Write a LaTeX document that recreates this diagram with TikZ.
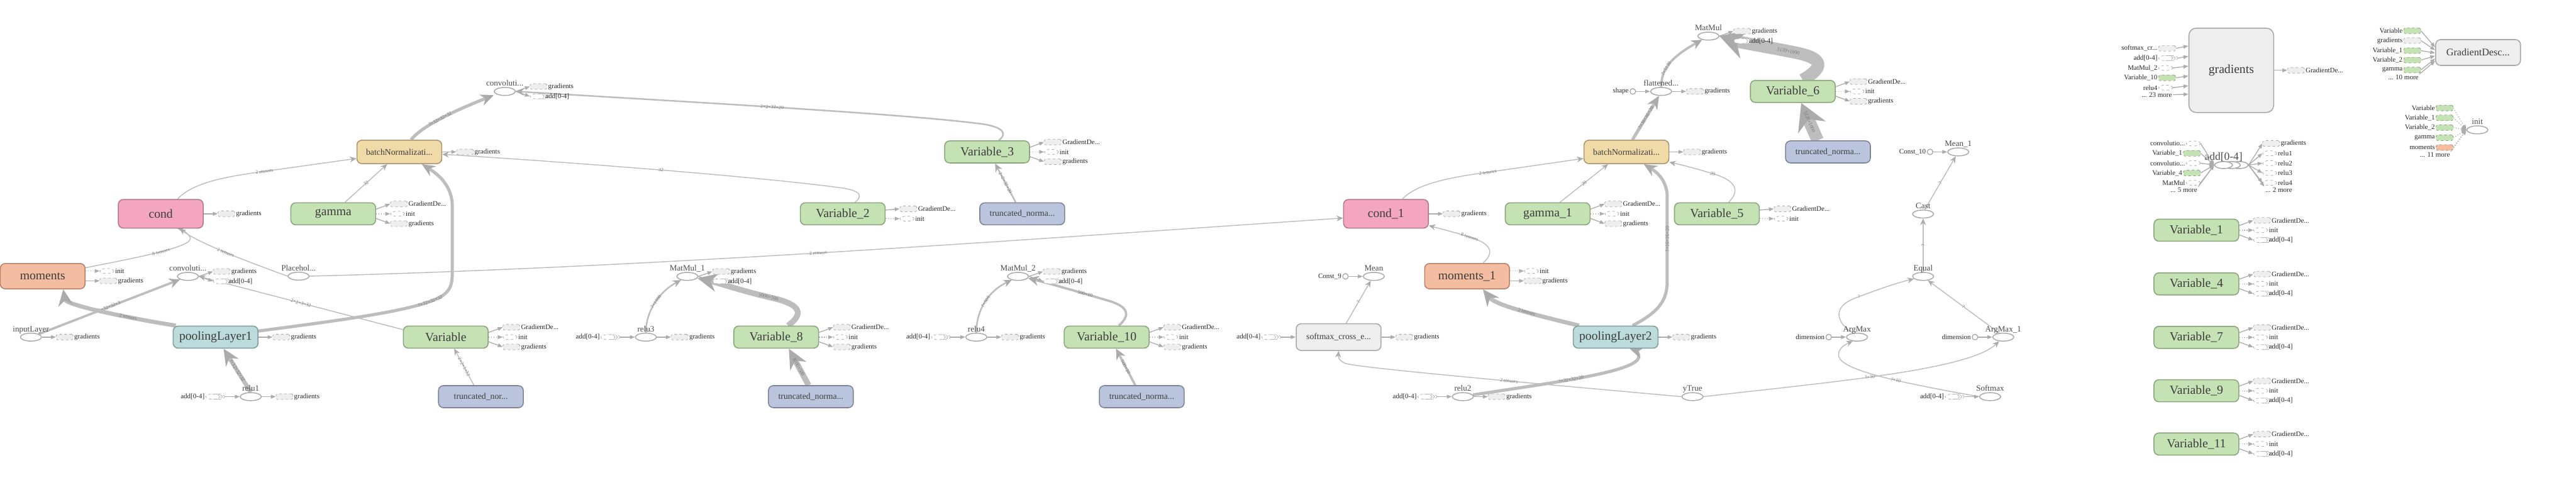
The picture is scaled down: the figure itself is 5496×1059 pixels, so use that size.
\documentclass[tikz,border=0pt]{standalone}
\usepackage{fontspec}
\setmainfont{Liberation Serif}
\usetikzlibrary{shapes.geometric,arrows.meta}
\pgfdeclarelayer{bg}
\pgfsetlayers{bg,main}

\definecolor{cedge}{HTML}{BDBDBD}
\definecolor{ctip}{HTML}{ABABAB}
\definecolor{cstub}{HTML}{ACACAC}
\definecolor{cgrayf}{HTML}{EEEEEE}
\definecolor{cgrayd}{HTML}{A8A8A8}
\definecolor{cgreenf}{HTML}{C5E2B4}
\definecolor{cgreend}{HTML}{8BA57D}
\definecolor{cpinkf}{HTML}{F4A5C0}
\definecolor{cpinkd}{HTML}{B07A8B}
\definecolor{corangef}{HTML}{F4BDA1}
\definecolor{coranged}{HTML}{B3836C}
\definecolor{ctanf}{HTML}{F0DAA8}
\definecolor{ctand}{HTML}{AB9670}
\definecolor{ctealf}{HTML}{BCDCDB}
\definecolor{cteald}{HTML}{809D9D}
\definecolor{cbluef}{HTML}{BAC5DD}
\definecolor{cblued}{HTML}{7E8497}
\definecolor{ctext}{HTML}{3C3C3C}
\definecolor{cop}{HTML}{4A4A4A}
\definecolor{clab}{HTML}{777777}

% output stubs of a node
\newcommand{\outG}[1]{%
  \node[sg,anchor=west,label={[stxt]right:gradients}] (#1-gr) at ([xshift=0.6cm]#1.east) {};
  \draw[sa] (#1.east) -- (#1-gr.west);}
\newcommand{\outsV}[1]{%
  \node[sg,anchor=west,label={[stxt]right:GradientDe...}] (#1-gd) at ([xshift=0.6cm,yshift=0.42cm]#1.east) {};
  \node[se,anchor=west,label={[stxt]right:init}] (#1-in) at ([xshift=0.6cm]#1.east) {};
  \node[sg,anchor=west,label={[stxt]right:gradients}] (#1-gr) at ([xshift=0.6cm,yshift=-0.42cm]#1.east) {};
  \draw[sa] ([yshift=0.2cm]#1.east) -- (#1-gd.west);
  \draw[sa,dotted] (#1.east) -- (#1-in.west);
  \draw[sa] ([yshift=-0.2cm]#1.east) -- (#1-gr.west);}
\newcommand{\outsW}[1]{%
  \node[sg,anchor=west,label={[stxt]right:GradientDe...}] (#1-gd) at ([xshift=0.6cm,yshift=0.42cm]#1.east) {};
  \node[se,anchor=west,label={[stxt]right:init}] (#1-in) at ([xshift=0.6cm]#1.east) {};
  \node[ssr,anchor=west,label={[stxt]right:{add[0-4]}}] (#1-ad) at ([xshift=0.6cm,yshift=-0.42cm]#1.east) {};
  \draw[sa] ([yshift=0.2cm]#1.east) -- (#1-gd.west);
  \draw[sa,dotted] (#1.east) -- (#1-in.west);
  \draw[sa] ([yshift=-0.2cm]#1.east) -- (#1-ad.west);}
\newcommand{\outsT}[1]{%
  \node[sg,anchor=west,label={[stxt]right:GradientDe...}] (#1-gd) at ([xshift=0.6cm,yshift=0.21cm]#1.east) {};
  \node[se,anchor=west,label={[stxt]right:init}] (#1-in) at ([xshift=0.6cm,yshift=-0.21cm]#1.east) {};
  \draw[sa] ([yshift=0.16cm]#1.east) -- (#1-gd.west);
  \draw[sa,dotted] ([yshift=-0.2cm]#1.east) -- (#1-in.west);}
\newcommand{\outsM}[1]{%
  \node[se,anchor=west,label={[stxt]right:init}] (#1-in) at ([xshift=0.6cm,yshift=0.22cm]#1.east) {};
  \node[sg,anchor=west,label={[stxt]right:gradients}] (#1-gr) at ([xshift=0.6cm,yshift=-0.2cm]#1.east) {};
  \draw[sa,dotted] ([yshift=0.22cm]#1.east) -- (#1-in.west);
  \draw[sa] ([yshift=-0.2cm]#1.east) -- (#1-gr.west);}
\newcommand{\outsO}[1]{%
  \node[sg,anchor=west,label={[stxt]right:gradients}] (#1-gr) at ([xshift=0.6cm,yshift=0.21cm]#1.east) {};
  \node[ssr,anchor=west,label={[stxt]right:{add[0-4]}}] (#1-ad) at ([xshift=0.6cm,yshift=-0.21cm]#1.east) {};
  \draw[sa] (#1.east) -- (#1-gr.west);
  \draw[sa] (#1.east) -- (#1-ad.west);}
% input stubs
\newcommand{\inAdd}[1]{%
  \node[ss,anchor=east,label={[stxt]left:{add[0-4]}}] (#1-ad) at ([xshift=-0.84cm]#1.west) {};
  \draw[sa] ([xshift=6pt]#1-ad.east) -- (#1.west);}
\newcommand{\inConst}[2]{%
  \node[cst,anchor=east,label={[stxt]left:{#2}}] (#1-c) at ([xshift=-0.6cm]#1.west) {};
  \draw[sa] (#1-c) -- (#1.west);}

\begin{document}
\begin{tikzpicture}[x=0.02cm,y=-0.02cm]
  \tikzstyle{box}=[rectangle,rounded corners=6pt,line width=1.2pt,minimum width=3.62cm,minimum height=0.94cm,inner sep=0pt,text=ctext,font=\fontsize{15}{18}\selectfont]
  \tikzstyle{varn}=[box,fill=cgreenf,draw=cgreend]
  \tikzstyle{condn}=[box,fill=cpinkf,draw=cpinkd,minimum height=1.22cm]
  \tikzstyle{momn}=[box,fill=corangef,draw=coranged,minimum height=1.08cm]
  \tikzstyle{bnn}=[box,fill=ctanf,draw=ctand,minimum height=1.0cm,font=\fontsize{10.5}{12}\selectfont]
  \tikzstyle{pooln}=[box,fill=ctealf,draw=cteald]
  \tikzstyle{trn}=[box,fill=cbluef,draw=cblued,font=\fontsize{10.5}{12}\selectfont]
  \tikzstyle{grn}=[box,fill=cgrayf,draw=cgrayd]
  \tikzstyle{opn}=[ellipse,draw=cgrayd,line width=1.1pt,fill=white,minimum width=0.9cm,minimum height=0.34cm,inner sep=0pt,label distance=3pt]
  \tikzstyle{opser}=[opn,minimum width=0.76cm,minimum height=0.3cm,
    preaction={draw=cgrayd,line width=1.1pt,fill=white,transform canvas={xshift=19pt}},
    preaction={draw=cgrayd,line width=1.1pt,fill=white,transform canvas={xshift=9.5pt}}]
  \tikzstyle{oplab}=[font=\fontsize{10}{12}\selectfont,text=cop,inner sep=1pt,text depth=0pt]
  \tikzstyle{sg}=[rectangle,rounded corners=1.5pt,dashed,draw=cstub,fill=cgrayf,line width=0.6pt,minimum width=0.72cm,minimum height=0.24cm,inner sep=0pt,label distance=2.4pt]
  \tikzstyle{sgg}=[sg,fill=cgreenf,draw=cgreend]
  \tikzstyle{sgo}=[sg,fill=corangef,draw=coranged]
  \tikzstyle{se}=[ellipse,dashed,draw=cstub,fill=white,line width=0.6pt,minimum width=0.6cm,minimum height=0.22cm,inner sep=0pt,label distance=2.4pt]
  \tikzstyle{ss}=[se,
    preaction={draw=cstub,dashed,line width=0.6pt,fill=white,transform canvas={xshift=6pt}},
    preaction={draw=cstub,dashed,line width=0.6pt,fill=white,transform canvas={xshift=3pt}}]
  \tikzstyle{ssr}=[ss,label distance=8.5pt]
  \tikzstyle{cst}=[circle,draw=cgrayd,line width=1pt,fill=white,minimum size=0.24cm,inner sep=0pt,label distance=2.4pt]
  \tikzstyle{stxt}=[font=\fontsize{8.4}{10}\selectfont,text=black!85,inner sep=1pt]
  \tikzstyle{sa}=[draw=cstub,line width=1pt,-{Triangle[length=6pt,width=4.5pt]}]
  \tikzstyle{ed}=[draw=cedge,line width=1.1pt,-{Stealth[length=8pt,width=7pt,color=ctip]}]
  \tikzstyle{edm}=[ed,line width=1.9pt,-{Stealth[length=10pt,width=9pt,color=ctip]}]
  \tikzstyle{edn}=[ed,line width=2.8pt,-{Stealth[length=13pt,width=12pt,color=ctip]}]
  \tikzstyle{edt}=[ed,line width=3.8pt,-{Stealth[length=16pt,width=14pt,color=ctip]}]
  \tikzstyle{edx}=[ed,line width=5pt,-{Stealth[length=20pt,width=18pt,color=ctip]}]
  \tikzstyle{edh}=[ed,line width=7pt,-{Stealth[length=24pt,width=22pt,color=ctip]}]
  \tikzstyle{edw}=[ed,line width=15pt,-{Stealth[length=32pt,width=36pt,color=ctip]}]
  \tikzstyle{el}=[sloped,font=\fontsize{6}{7}\selectfont,text=clab,inner sep=0.5pt]
  \useasboundingbox (0,0) rectangle (5496,1059);

  % first block
  \node[momn] (mom) at (91,589) {moments};
  \node[condn] (cond) at (343,456) {cond};
  \node[varn] (gamma) at (711,456) {gamma};
  \node[bnn] (bn1) at (852,324) {batchNormalizati...};
  \node[pooln] (pool1) at (460,719) {poolingLayer1};
  \node[varn] (var0) at (951,719) {Variable};
  \node[trn] (tr0) at (1026,846) {truncated\_nor...};
  \node[opn,label={[oplab]above:convoluti...}] (convL) at (401,589.5) {};
  \node[opn,label={[oplab]above:Placehol...}] (plh) at (637,589) {};
  \node[opn,label={[oplab]above:inputLayer}] (inp) at (66,719) {};
  \node[opn,label={[oplab]above:relu1}] (relu1) at (535,846) {};
  \node[opn,label={[oplab]above:convoluti...}] (convT) at (1077,195) {};

  % dense layers
  \node[varn] (var8) at (1656,719) {Variable\_8};
  \node[trn] (tr8) at (1730,846) {truncated\_norma...};
  \node[varn] (var2) at (1798,456) {Variable\_2};
  \node[varn] (var3) at (2106,324) {Variable\_3};
  \node[trn] (tr3) at (2181,456) {truncated\_norma...};
  \node[varn] (var10) at (2361,719) {Variable\_10};
  \node[trn] (tr10) at (2436,846) {truncated\_norma...};
  \node[opn,label={[oplab]above:MatMul\_1}] (mm1) at (1466.5,589.5) {};
  \node[opn,label={[oplab]above:relu3}] (relu3) at (1378,719) {};
  \node[opn,label={[oplab]above:MatMul\_2}] (mm2) at (2172,589.5) {};
  \node[opn,label={[oplab]above:relu4}] (relu4) at (2083,719) {};

  % second block
  \node[grn,minimum height=1.14cm,font=\fontsize{10.5}{12}\selectfont] (smx) at (2856,719) {softmax\_cross\_e...};
  \node[condn] (cond1) at (2957,456) {cond\_1};
  \node[varn] (gam1) at (3302,456) {gamma\_1};
  \node[momn] (mom1) at (3130,589) {moments\_1};
  \node[pooln] (pool2) at (3447,719) {poolingLayer2};
  \node[bnn] (bn2) at (3470,324) {batchNormalizati...};
  \node[varn] (var5) at (3663,456) {Variable\_5};
  \node[varn] (var6) at (3825,195) {Variable\_6};
  \node[trn] (tr6) at (3900,324) {truncated\_norma...};
  \node[opn,label={[oplab]above:Mean}] (mean) at (2931,589.5) {};
  \node[opn,label={[oplab]above:relu2}] (relu2) at (3121,846) {};
  \node[opn,label={[oplab]above:yTrue}] (ytrue) at (3611,846) {};
  \node[opn,label={[oplab]above:flattened...}] (flat) at (3544,195) {};
  \node[opn,label={[oplab]above:MatMul}] (mm0) at (3645,77) {};
  \node[opn,label={[oplab]above:Mean\_1}] (mean1) at (4178,324) {};
  \node[opn,label={[oplab]above:Cast}] (cast) at (4103,456.5) {};
  \node[opn,label={[oplab]above:Equal}] (eq) at (4103,589.5) {};
  \node[opn,label={[oplab]above:ArgMax}] (am) at (3962,719) {};
  \node[opn,label={[oplab]above:ArgMax\_1}] (am1) at (4274,719) {};
  \node[opn,label={[oplab]above:Softmax}] (smax) at (4246,846) {};

  % stubs
  \outG{cond} \outsV{gamma} \outsM{mom} \outG{bn1} \outG{pool1} \outsV{var0}
  \outsO{convL} \outG{inp} \inAdd{relu1} \outG{relu1} \outsO{convT}
  \outsV{var8} \outsT{var2} \outsV{var3} \outsV{var10}
  \outsO{mm1} \inAdd{relu3} \outG{relu3} \outsO{mm2} \inAdd{relu4} \outG{relu4}
  \inAdd{smx} \outG{smx} \inConst{mean}{Const\_9}
  \outG{cond1} \outsV{gam1} \outsM{mom1} \outG{pool2} \outG{bn2} \outsT{var5} \outsV{var6}
  \inAdd{relu2} \outG{relu2} \inConst{flat}{shape} \outG{flat} \outsO{mm0}
  \inConst{mean1}{Const\_10} \inConst{am}{dimension} \inConst{am1}{dimension} \inAdd{smax}

  % main edges
  \begin{pgfonlayer}{bg}
  \draw[edn] (inp) -- node[el,pos=0.5] (l1) {?×32×32×3} (convL);
  \draw[edx] ([xshift=-1.7cm]pool1.north) .. controls (260,676) and (140,650) .. ([xshift=0.88cm]mom.south) node[el,pos=0.3] (l2) {2 tensors};
  \draw[ed] ([yshift=0.36cm]mom.east) .. controls (300,548) and (420,525) .. (405,505) node[el,pos=0.5] (l3) {8 tensors} .. controls (400,497) and (390,490) .. ([xshift=0.72cm]cond.south);
  \draw[ed] (plh.west) .. controls (500,548) and (420,515) .. ([xshift=0.8cm]cond.south) node[el,pos=0.45] (l4) {2 tensors};
  \draw[ed] (plh.east) .. controls (1400,570) and (2200,510) .. ([yshift=-0.18cm]cond1.west) node[el,pos=0.48] (l5) {2 tensors};
  \draw[ed] ([xshift=0.72cm]cond.north) .. controls (410,390) and (480,377) .. (560,366) -- ([yshift=-0.28cm]bn1.west) node[el,pos=0.02] (l6) {2 tensors};
  \draw[ed] ([xshift=0.5cm]gamma.north) -- node[el] (l7) {32} ([xshift=-0.52cm]bn1.south);
  \draw[edt] ([yshift=0.26cm]pool1.east) .. controls (750,680) and (900,660) .. (945,630) node[el,pos=0.85] (l8) {?×32×32×32}
    .. controls (965,615) and (965,600) .. (965,575) -- (965,440) .. controls (965,400) and (940,375) .. ([xshift=0.96cm]bn1.south);
  \draw[ed] ([yshift=0.32cm]var0.west) -- node[el] (l9) {2×2×3×32} (convL.east);
  \draw[edt] ([xshift=0.5cm]bn1.north) .. controls (900,270) and (960,240) .. ([yshift=-0.16cm]convT.west) node[el,pos=0.5] (l10) {?×32×32×32};
  \draw[edx] (relu1.north) -- node[el] (l11) {?×32×32×32} ([xshift=0.34cm]pool1.south);
  \draw[edm] ([xshift=0.5cm]var3.north) .. controls (2150,285) and (2140,272) .. (2100,265) .. controls (1950,245) and (1600,225) .. (convT.east) node[el,pos=0.58] (l12) {2×2×32×20};
  \draw[ed] ([xshift=0.52cm]var2.north) .. controls (1845,415) and (1830,405) .. (1790,400) .. controls (1600,375) and (1200,345) .. ([yshift=-0.1cm]bn1.east) node[el,pos=0.48] (l13) {32};
  \draw[ed] ([xshift=-0.3cm]tr0.north) -- node[el] (l14) {2×2×3×32} ([xshift=0.36cm]var0.south);
  \draw[edh] ([xshift=-0.1cm]tr8.north) -- node[el] (l15) {1000×500} ([xshift=0.54cm]var8.south);
  \draw[edm] ([xshift=-0.28cm]tr3.north) -- node[el] (l16) {2×2×32×20} ([xshift=0.34cm]var3.south);
  \draw[edm] (relu3.north) .. controls (1378,660) and (1410,620) .. (mm1.210) node[el,pos=0.5] (l17) {?×1000};
  \draw[edh] ([xshift=0.5cm]var8.north) .. controls (1715,670) and (1710,650) .. (1650,636) .. controls (1580,620) and (1540,605) .. (mm1.-10) node[el,pos=0.05] (l18) {1000×500};
  \draw[edm] (relu4.north) .. controls (2083,660) and (2110,620) .. (mm2.210) node[el,pos=0.5] (l19) {?×500};
  \draw[edn] ([xshift=0.52cm]var10.north) .. controls (2415,670) and (2405,652) .. (2360,640) .. controls (2300,622) and (2240,605) .. (mm2.-10) node[el,pos=0.25] (l20) {500×10};
  \draw[edn] ([xshift=-0.28cm]tr10.north) -- node[el] (l21) {500×10} ([xshift=0.4cm]var10.south);

  \draw[ed] ([xshift=0.7cm]cond1.north) .. controls (3020,395) and (3080,380) .. (3170,368) -- ([yshift=-0.28cm]bn2.west) node[el,pos=0.02] (l22) {2 tensors};
  \draw[ed] ([xshift=0.52cm]gam1.north) -- node[el] (l23) {20} ([xshift=-0.78cm]bn2.south);
  \draw[ed] ([xshift=0.68cm]mom1.north) .. controls (3190,538) and (3180,520) .. (3140,507) .. controls (3110,497) and (3080,490) .. ([yshift=-0.5cm]cond1.east) node[el,pos=0.05] (l24) {8 tensors};
  \draw[edx] ([xshift=-1.56cm]pool2.north) .. controls (3260,668) and (3190,650) .. ([xshift=0.68cm]mom1.south) node[el,pos=0.4] (l25) {2 tensors};
  \draw[edt] ([xshift=0.72cm]pool2.north) .. controls (3540,665) and (3557,640) .. (3557,600) -- (3557,420) node[el,midway] (l26) {?×16×16×20}
    .. controls (3557,390) and (3540,370) .. ([xshift=0.74cm]bn2.south);
  \draw[edt] ([xshift=0.26cm]bn2.north) -- node[el] (l27) {?×16×16×20} (flat.245);
  \draw[edn] (flat.north) .. controls (3545,150) and (3560,125) .. (mm0.210) node[el,pos=0.4] (l28) {?×5120};
  \draw[edw] ([xshift=0.42cm]var6.north) .. controls (3890,145) and (3895,125) .. (3830,112) .. controls (3770,100) and (3710,90) .. (mm0.east) node[el,pos=0.08] (l29) {5120×1000};
  \draw[edw] ([xshift=-0.44cm]tr6.north) -- node[el] (l30) {5120×1000} ([xshift=0.36cm]var6.south);
  \draw[ed] ([xshift=0.5cm]var5.north) .. controls (3715,405) and (3700,385) .. (3660,372) .. controls (3620,360) and (3590,352) .. ([yshift=-0.44cm]bn2.east) node[el,pos=0.05] (l31) {20};
  \draw[edt] (relu2.10) .. controls (3300,818) and (3480,795) .. (3495,765) node[el,pos=0.45] (l32) {?×32×32×20}
    .. controls (3500,755) and (3490,748) .. ([xshift=0.6cm]pool2.south);
  \draw[ed] (ytrue.west) .. controls (3300,820) and (2900,785) .. (2870,775) node[el,pos=0.4] (l33) {2 tensors}
    .. controls (2855,768) and (2855,760) .. (smx.south);
  \draw[ed] ([xshift=0.32cm]smx.north) -- node[el] (l34) {?} (mean.235);
  \draw[ed] (ytrue.east) .. controls (3900,815) and (4200,790) .. (am1.225) node[el,pos=0.45] (l35) {?×10};
  \draw[ed] (smax.west) .. controls (4050,815) and (3930,790) .. (3923,760) node[el,pos=0.4] (l36) {?×10}
    .. controls (3920,745) and (3935,735) .. (am.225);
  \draw[ed] (am.135) .. controls (3920,690) and (3905,655) .. (3960,635) .. controls (4000,620) and (4040,605) .. (eq.195) node[el,pos=0.05] (l37) {?};
  \draw[ed] (am1.135) -- node[el] (l38) {?} (eq.-40);
  \draw[ed] (eq) -- node[el] (l39) {?} (cast);
  \draw[ed] (cast.70) -- node[el] (l40) {?} (mean1.240);
  \end{pgfonlayer}

  % gradients block
  \node[grn,minimum height=3.6cm,rounded corners=9pt] (gradb) at (4760.5,150) {gradients};
  \node[sg,anchor=west,label={[stxt]left:softmax\_cr...}] (gi1) at (4605,103) {};
  \node[ss,anchor=west,label={[stxt]left:{add[0-4]}}] (gi2) at (4605,124) {};
  \node[se,anchor=west,label={[stxt]left:MatMul\_2}] (gi3) at (4605,145) {};
  \node[sgg,anchor=west,label={[stxt]left:Variable\_10}] (gi4) at (4605,166) {};
  \node[se,anchor=west,label={[stxt]left:relu4}] (gi5) at (4605,187) {};
  \node[stxt,anchor=east] (gi6) at (4636,202) {... 23 more};
  \draw[sa] (gi1.east) -- (gradb.west |- 0,98);
  \draw[sa] ([xshift=6pt]gi2.east) -- (gradb.west |- 0,120);
  \draw[sa] (gi3.east) -- (gradb.west |- 0,141);
  \draw[sa] (gi4.east) -- (gradb.west |- 0,162);
  \draw[sa] (gi5.east) -- (gradb.west |- 0,183);
  \draw[sa] (gi6.east) -- (gradb.west |- 0,201);
  \node[sg,anchor=west,label={[stxt]right:GradientDe...}] (go1) at (4880,150) {};
  \draw[sa] (gradb.east) -- (go1.west);

  % GradientDescent block
  \node[grn,minimum height=1.1cm,font=\fontsize{12.3}{14}\selectfont] (gdesc) at (5287,112) {GradientDesc...};
  \node[sgg,anchor=east,label={[stxt]left:Variable}] (gd1) at (5165,65.5) {};
  \node[sg,anchor=east,label={[stxt]left:gradients}] (gd2) at (5165,86.5) {};
  \node[sgg,anchor=east,label={[stxt]left:Variable\_1}] (gd3) at (5165,108) {};
  \node[sgg,anchor=east,label={[stxt]left:Variable\_2}] (gd4) at (5165,128.3) {};
  \node[sgg,anchor=east,label={[stxt]left:gamma}] (gd5) at (5165,149.3) {};
  \node[stxt,anchor=east] (gd6) at (5162,165) {... 10 more};
  \draw[sa] (gd1.east) -- (gdesc.west |- 0,101);
  \draw[sa] (gd2.east) -- (gdesc.west |- 0,107);
  \draw[sa] (gd3.east) -- (gdesc.west |- 0,113);
  \draw[sa] (gd4.east) -- (gdesc.west |- 0,119);
  \draw[sa] (gd5.east) -- (gdesc.west |- 0,125);
  \draw[sa] (gd6.north east) -- (gdesc.west |- 0,130);

  % init block
  \node[opn,label={[oplab]above:init}] (initn) at (5285.5,277) {};
  \node[sgg,anchor=east,label={[stxt]left:Variable}] (in1) at (5234,230.3) {};
  \node[sgg,anchor=east,label={[stxt]left:Variable\_1}] (in2) at (5234,251.3) {};
  \node[sgg,anchor=east,label={[stxt]left:Variable\_2}] (in3) at (5234,272.2) {};
  \node[sgg,anchor=east,label={[stxt]left:gamma}] (in4) at (5234,293.8) {};
  \node[sgo,anchor=east,label={[stxt]left:moments}] (in5) at (5234,314.7) {};
  \node[stxt,anchor=east] (in6) at (5229,330.3) {... 11 more};
  \draw[sa,dotted] (in1.east) -- (initn.west);
  \draw[sa,dotted] (in2.east) -- (initn.west);
  \draw[sa,dotted] (in3.east) -- (initn.west);
  \draw[sa,dotted] (in4.east) -- (initn.west);
  \draw[sa,dotted] (in5.east) -- (initn.west);
  \draw[sa,dotted] (in6.north east) -- (initn.west);

  % add[0-4] block
  \node[opser,label={[oplab,font=\fontsize{13.3}{15}\selectfont]above:{add[0-4]}}] (addn) at (4744,352) {};
  \node[se,anchor=east,label={[stxt]left:convolutio...}] (ai1) at (4695,306) {};
  \node[sgg,anchor=east,label={[stxt]left:Variable\_1}] (ai2) at (4695,327) {};
  \node[se,anchor=east,label={[stxt]left:convolutio...}] (ai3) at (4695,348) {};
  \node[sgg,anchor=east,label={[stxt]left:Variable\_4}] (ai4) at (4695,369) {};
  \node[se,anchor=east,label={[stxt]left:MatMul}] (ai5) at (4695,390) {};
  \node[stxt,anchor=east] (ai6) at (4690,405.2) {... 5 more};
  \draw[sa] (ai1.east) -- (addn.west);
  \draw[sa] (ai2.east) -- (addn.west);
  \draw[sa] (ai3.east) -- (addn.west);
  \draw[sa] (ai4.east) -- (addn.west);
  \draw[sa] (ai5.east) -- (addn.west);
  \draw[sa] (ai6.north east) -- (addn.west);
  \node[sg,anchor=west,label={[stxt]right:gradients}] (ao1) at (4827,306) {};
  \node[se,anchor=west,label={[stxt]right:relu1}] (ao2) at (4827,327) {};
  \node[se,anchor=west,label={[stxt]right:relu2}] (ao3) at (4827,348) {};
  \node[se,anchor=west,label={[stxt]right:relu3}] (ao4) at (4827,369) {};
  \node[se,anchor=west,label={[stxt]right:relu4}] (ao5) at (4827,390) {};
  \node[stxt,anchor=west] (ao6) at (4831,405.2) {... 2 more};
  \draw[sa] ([xshift=19pt]addn.east) -- (ao1.west);
  \draw[sa] ([xshift=19pt]addn.east) -- (ao2.west);
  \draw[sa] ([xshift=19pt]addn.east) -- (ao3.west);
  \draw[sa] ([xshift=19pt]addn.east) -- (ao4.west);
  \draw[sa] ([xshift=19pt]addn.east) -- (ao5.west);
  \draw[sa] ([xshift=19pt]addn.east) -- (ao6.north west);

  % unconnected variables
  \node[varn] (var1) at (4686,491) {Variable\_1};
  \node[varn] (var4) at (4686,605.5) {Variable\_4};
  \node[varn] (var7) at (4686,719.5) {Variable\_7};
  \node[varn] (var9) at (4686,833.5) {Variable\_9};
  \node[varn] (var11) at (4686,947) {Variable\_11};
  \outsW{var1} \outsW{var4} \outsW{var7} \outsW{var9} \outsW{var11}
\end{tikzpicture}
\end{document}
